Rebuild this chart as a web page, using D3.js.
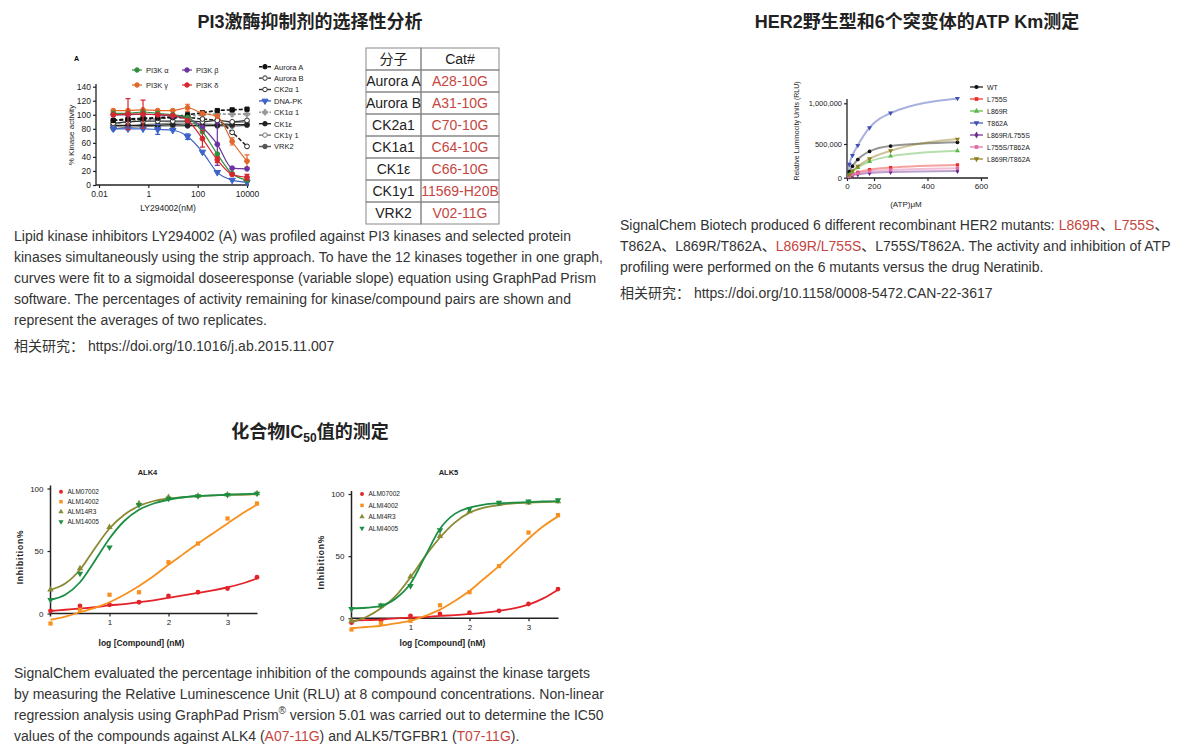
<!DOCTYPE html>
<html>
<head>
<meta charset="utf-8">
<script src="https://cdn.jsdelivr.net/npm/d3@7/dist/d3.min.js"></script>
<style>
  body { margin: 0; background: #fff; }
  svg text { font-family: "Liberation Sans", Arial, "Noto Sans CJK SC", sans-serif; }
</style>
</head>
<body>
<svg id="page" width="1201" height="755"></svg>
<script>
// ---------- chart A: LY294002 strip (% kinase activity) ----------
var pi3Conc = [0.038, 0.15, 0.61, 2.4, 9.8, 39, 156, 625, 2500, 10000];
var pi3Ticks = [0.01, 1, 100, 10000];
var pi3YTicks = [0, 20, 40, 60, 80, 100, 120, 140];
var pi3Names = ["PI3K α", "PI3K β", "PI3K γ", "PI3K δ", "Aurora A", "Aurora B", "CK2α 1", "DNA-PK", "CK1α 1", "CK1ε", "CK1γ 1", "VRK2"];
var pi3kAlpha = [102, 102, 104, 102, 100, 96, 76, 44, 16, 7];
var pi3kBeta = [100, 100, 101, 100, 98, 95, 82, 58, 24, 23];
var pi3kGamma = [106, 106, 107, 106, 106, 110, 102, 98, 62, 34];
var pi3kDelta = [100, 101, 101, 100, 99, 92, 66, 36, 15, 11];
var auroraA = [92, 94, 95, 96, 97, 100, 103, 106, 107, 108];
var auroraB = [92, 93, 94, 95, 96, 96, 94, 92, 75, 55];
var ck2a1 = [88, 90, 91, 91, 91, 91, 90, 92, 90, 92];
var dnaPK = [80, 80, 80, 79, 78, 69, 47, 18, 7, 4];
var ck1a1 = [87, 90, 92, 94, 96, 98, 100, 101, 101, 101];
var ck1e = [85, 85, 85, 85, 86, 85, 85, 85, 86, 86];
var ck1g1 = [83, 84, 86, 87, 88, 88, 87, 86, 89, 90];
var vrk2 = [80, 82, 83, 84, 84, 84, 84, 84, 84, 85];
// error half-widths (0 = none visible)
var pi3kBetaErr = [0, 0, 0, 0, 0, 0, 0, 30, 0, 0];
var pi3kGammaErr = [0, 0, 0, 0, 0, 5, 0, 0, 5, 9];
var pi3kDeltaErr = [0, 22, 20, 0, 0, 0, 12, 4, 0, 4];
var dnaPKErr = [0, 0, 0, 7, 0, 4, 0, 0, 0, 0];

// ---------- table ----------
var tableHead = ["分子", "Cat#"];
var tableMol = ["Aurora A", "Aurora B", "CK2a1", "CK1a1", "CK1ε", "CK1y1", "VRK2"];
var tableCat = ["A28-10G", "A31-10G", "C70-10G", "C64-10G", "C66-10G", "11569-H20B", "V02-11G"];

// ---------- HER2 ATP Km ----------
var atpConc = [0, 17, 40, 80, 167, 262, 512];
var atpXTicks = [0, 200, 400, 600];
var atpYTicks = [0, 500000, 1000000];
var herNames = ["WT", "L755S", "L869R", "T862A", "L869R/L755S", "L755S/T862A", "L869R/T862A"];
var herWT = [0, 90000, 170000, 270000, 390000, 470000, 520000];
var herL755S = [0, 20000, 45000, 80000, 120000, 150000, 190000];
var herL869R = [0, 40000, 90000, 150000, 240000, 320000, 400000];
var herT862A = [0, 200000, 330000, 480000, 700000, 880000, 1060000];
var herL869RL755S = [0, 15000, 35000, 50000, 70000, 85000, 100000];
var herL755ST862A = [0, 20000, 45000, 65000, 95000, 115000, 140000];
var herL869RT862A = [0, 40000, 100000, 170000, 280000, 400000, 560000];

// ---------- ALK4 / ALK5 IC50 ----------
var logConc = [0, 0.5, 1, 1.5, 2, 2.5, 3, 3.5];
var fitConc = [0, 0.25, 0.5, 0.75, 1, 1.25, 1.5, 1.75, 2, 2.25, 2.5, 2.75, 3, 3.25, 3.5];
var alkXTicks = [1, 2, 3];
var alkYTicks = [0, 50, 100];
var alk4Names = ["ALM07002", "ALM14002", "ALM14R3", "ALM14005"];
var alk5Names = ["ALM07002", "ALMI4002", "ALMI4R3", "ALMI4005"];
var alk4A = [2, 6, 7, 9, 14, 17, 20, 29];
var alk4B = [-8, 3, 15, 17, 41, 56, 76, 88];
var alk4C = [19, 36, 69, 88, 93, 94, 95, 96];
var alk4D = [11, 32, 53, 87, 92, 94, 95, 96];
var alk4AFit = [2, 3, 4, 5, 6.5, 7.5, 9, 10.5, 12.5, 14.5, 16.5, 18.5, 21, 24, 28];
var alk4BFit = [-5, -2.5, 1, 4.5, 9, 15, 22, 30, 39, 47.5, 56, 64, 72, 80, 87];
var alk4CFit = [19, 24, 35, 52, 68, 79, 86, 90, 92, 93, 94, 94.5, 95, 95, 95.5];
var alk4DFit = [11, 15, 25, 42, 60, 74, 83, 88, 91, 93, 94, 94.5, 95, 95.5, 96];
var alk5A = [-3.5, -2, 2, 3.5, 4.5, 6, 11.5, 23.5];
var alk5B = [-9, -4, -2, 10.5, 21, 42, 69, 83];
var alk5C = [-2, 10, 33.5, 66, 86, 92, 93, 94];
var alk5D = [7.5, 10.5, 26, 71, 88, 93, 94, 95];
var alk5AFit = [-2, -1.5, -1, 0, 0.5, 1, 2, 2.5, 3.5, 4.5, 6, 8, 11, 16, 23];
var alk5BFit = [-8, -7, -6, -4, -2, 2, 7, 14, 22, 32, 42, 53, 64, 74, 82];
var alk5CFit = [-3, 1, 8, 18, 33, 50, 65, 77, 85, 89, 91, 92.5, 93, 93.5, 94];
var alk5DFit = [8, 8.5, 10, 16, 28, 50, 72, 84, 89, 91.5, 92.5, 93, 93.5, 94, 94];

var RED = "#c4463f";
var svg = d3.select("#page");

function title(x, y, t) {
  return svg.append("text").attr("x", x).attr("y", y).attr("text-anchor", "middle")
    .attr("font-size", 18).attr("font-weight", "bold").attr("fill", "#222").text(t);
}
function para(x, y0, lh, lines) {
  lines.forEach(function(segs, i) {
    var t = svg.append("text").attr("x", x).attr("y", y0 + i * lh)
      .attr("font-size", 14).attr("fill", "#333");
    segs.forEach(function(s) {
      var sp = t.append("tspan").text(s[0]);
      if (s[1] === 1) sp.attr("fill", RED);
      if (s[1] === 2) sp.attr("font-size", 10).attr("dy", -6);
      if (s[1] === 3) sp.attr("dy", 6);
    });
  });
}
function mark(g, sym, size, x, y, color, fill) {
  g.append("path").attr("d", d3.symbol().type(sym).size(size)())
    .attr("transform", "translate(" + x + "," + y + ")")
    .attr("fill", fill ? color : "#fff").attr("stroke", color).attr("stroke-width", 1);
}
function styleAxis(sel, fs) {
  sel.select(".domain").remove();
  sel.selectAll("line").attr("stroke", "#222").attr("stroke-width", 1.2);
  sel.selectAll("text").attr("font-size", fs).attr("fill", "#222")
    .attr("font-family", "Inter, 'Liberation Sans', sans-serif");
}

// ================= titles =================
title(310, 28, "PI3激酶抑制剂的选择性分析");
title(917, 28, "HER2野生型和6个突变体的ATP Km测定");
var t3 = title(310, 438, "化合物IC");
t3.append("tspan").text("50").attr("font-size", 12).attr("dy", 4);
t3.append("tspan").text("值的测定").attr("dy", -4);

// ================= chart A =================
(function() {
  var g = svg.append("g");
  var x = d3.scaleLog().domain([0.01, 10000]).range([99, 247]);
  var y = d3.scaleLinear().domain([0, 140]).range([185, 86.7]);
  var ax = g.append("g").attr("transform", "translate(0,185)")
    .call(d3.axisBottom(x).tickValues(pi3Ticks).tickFormat(d3.format("~g")).tickSize(3).tickPadding(3));
  styleAxis(ax, 8.5);
  var ay = g.append("g").attr("transform", "translate(96,0)")
    .call(d3.axisLeft(y).tickValues(pi3YTicks).tickSize(3).tickPadding(2));
  styleAxis(ay, 8.5);
  g.append("line").attr("x1", 96).attr("x2", 249).attr("y1", 185).attr("y2", 185).attr("stroke", "#222").attr("stroke-width", 1.3);
  g.append("line").attr("x1", 96).attr("x2", 96).attr("y1", 84).attr("y2", 185).attr("stroke", "#222").attr("stroke-width", 1.3);

  g.append("text").attr("x", 74).attr("y", 61).attr("font-size", 7).attr("font-weight", "bold").text("A");
  g.append("text").attr("transform", "translate(74,135) rotate(-90)").attr("text-anchor", "middle")
    .attr("font-size", 8).attr("fill", "#222").attr("font-family", "Inter, sans-serif").text("% Kinase activity");
  g.append("text").attr("x", 168).attr("y", 211).attr("text-anchor", "middle")
    .attr("font-size", 8.5).attr("fill", "#222").attr("font-family", "Inter, sans-serif").text("LY294002(nM)");

  var series = [
    { v: vrk2, c: "#666", dash: null, sym: d3.symbolCircle, fill: true },
    { v: ck1g1, c: "#888", dash: null, sym: d3.symbolCircle, fill: false },
    { v: ck1e, c: "#222", dash: null, sym: d3.symbolCircle, fill: true },
    { v: ck1a1, c: "#999", dash: "3,2", sym: d3.symbolCross, fill: true },
    { v: ck2a1, c: "#333", dash: null, sym: d3.symbolCircle, fill: false },
    { v: auroraB, c: "#222", dash: "4,2", sym: d3.symbolCircle, fill: false },
    { v: auroraA, c: "#111", dash: "4,2", sym: d3.symbolSquare, fill: true },
    { v: dnaPK, e: dnaPKErr, c: "#3d63c9", dash: null, sym: d3.symbolTriangle, fill: true, down: true },
    { v: pi3kGamma, e: pi3kGammaErr, c: "#e2682a", dash: null, sym: d3.symbolCircle, fill: true },
    { v: pi3kBeta, e: pi3kBetaErr, c: "#6a35a0", dash: null, sym: d3.symbolCircle, fill: true },
    { v: pi3kAlpha, c: "#2f8f3f", dash: null, sym: d3.symbolCircle, fill: true },
    { v: pi3kDelta, e: pi3kDeltaErr, c: "#d8262e", dash: null, sym: d3.symbolCircle, fill: true }
  ];
  var line = d3.line().x(function(d, i) { return x(pi3Conc[i]); }).y(function(d) { return y(d); }).curve(d3.curveMonotoneX);
  series.forEach(function(s) {
    g.append("path").attr("d", line(s.v)).attr("fill", "none").attr("stroke", s.c)
      .attr("stroke-width", s.dash ? 1.6 : 1.2).attr("stroke-dasharray", s.dash);
    s.v.forEach(function(d, i) {
      var cx = x(pi3Conc[i]), cy = y(d);
      if (s.e && s.e[i]) {
        var e = s.e[i];
        g.append("path").attr("d", "M" + cx + "," + y(d - e) + "V" + y(d + e) + "M" + (cx - 2.5) + "," + y(d + e) + "h5M" + (cx - 2.5) + "," + y(d - e) + "h5")
          .attr("stroke", s.c).attr("stroke-width", 1.2).attr("fill", "none");
      }
      g.append("path").attr("d", d3.symbol().type(s.sym).size(18)())
        .attr("transform", "translate(" + cx + "," + cy + ")" + (s.down ? " rotate(180)" : ""))
        .attr("fill", s.fill ? s.c : "#fff").attr("stroke", s.c).attr("stroke-width", 1);
    });
  });

  // legends
  var leftLeg = [
    { n: pi3Names[0], c: "#2f8f3f", x: 132, y: 70 },
    { n: pi3Names[1], c: "#6a35a0", x: 182, y: 70 },
    { n: pi3Names[2], c: "#e2682a", x: 132, y: 85 },
    { n: pi3Names[3], c: "#d8262e", x: 182, y: 85 }
  ];
  leftLeg.forEach(function(l) {
    g.append("line").attr("x1", l.x).attr("x2", l.x + 10).attr("y1", l.y).attr("y2", l.y).attr("stroke", l.c).attr("stroke-width", 1.2);
    mark(g, d3.symbolCircle, 16, l.x + 5, l.y, l.c, true);
    g.append("text").attr("x", l.x + 14).attr("y", l.y + 2.5).attr("font-size", 7.5).attr("fill", "#222")
      .attr("font-family", "Inter, sans-serif").text(l.n);
  });
  var rightStyles = [
    { c: "#111", dash: "3,1.5", sym: d3.symbolCircle, fill: true },
    { c: "#222", dash: "3,1.5", sym: d3.symbolCircle, fill: false },
    { c: "#333", dash: null, sym: d3.symbolCircle, fill: false },
    { c: "#3d63c9", dash: null, sym: d3.symbolTriangle, fill: true, down: true },
    { c: "#999", dash: "2,1.5", sym: d3.symbolCross, fill: true },
    { c: "#222", dash: null, sym: d3.symbolCircle, fill: true },
    { c: "#777", dash: null, sym: d3.symbolCircle, fill: false },
    { c: "#555", dash: null, sym: d3.symbolCircle, fill: true }
  ];
  rightStyles.forEach(function(s, i) {
    var ly = 66.7 + i * 11.4;
    g.append("line").attr("x1", 259).attr("x2", 271).attr("y1", ly).attr("y2", ly).attr("stroke", s.c)
      .attr("stroke-width", 1.4).attr("stroke-dasharray", s.dash);
    g.append("path").attr("d", d3.symbol().type(s.sym).size(16)())
      .attr("transform", "translate(265," + ly + ")" + (s.down ? " rotate(180)" : ""))
      .attr("fill", s.fill ? s.c : "#fff").attr("stroke", s.c);
    g.append("text").attr("x", 274).attr("y", ly + 2.8).attr("font-size", 7.5).attr("fill", "#222")
      .attr("font-family", "Inter, sans-serif").text(pi3Names[4 + i]);
  });
})();

// ================= table =================
(function() {
  var g = svg.append("g");
  var xs = [366, 421, 499], top = 48, rh = 22;
  var rows = [tableHead].concat(tableMol.map(function(m, i) { return [m, tableCat[i]]; }));
  rows.forEach(function(r, i) {
    var y0 = top + i * rh;
    g.append("rect").attr("x", xs[0]).attr("y", y0).attr("width", xs[1] - xs[0]).attr("height", rh)
      .attr("fill", "none").attr("stroke", "#888");
    g.append("rect").attr("x", xs[1]).attr("y", y0).attr("width", xs[2] - xs[1]).attr("height", rh)
      .attr("fill", "none").attr("stroke", "#888");
    g.append("text").attr("x", (xs[0] + xs[1]) / 2).attr("y", y0 + 16).attr("text-anchor", "middle")
      .attr("font-size", 14).attr("fill", "#222").text(r[0]);
    g.append("text").attr("x", (xs[1] + xs[2]) / 2).attr("y", y0 + 16).attr("text-anchor", "middle")
      .attr("font-size", 14).attr("fill", i === 0 ? "#222" : RED).text(r[1]);
  });
})();

// ================= HER2 chart =================
(function() {
  var g = svg.append("g");
  var x = d3.scaleLinear().domain([0, 200, 600]).range([847, 874, 981]);
  var y = d3.scaleLinear().domain([0, 500000, 1000000]).range([177.7, 144, 103.3]);
  var ax = g.append("g").attr("transform", "translate(0,178)")
    .call(d3.axisBottom(x).tickValues(atpXTicks).tickSize(3).tickPadding(2));
  styleAxis(ax, 8);
  var ay = g.append("g").attr("transform", "translate(847,0)")
    .call(d3.axisLeft(y).tickValues(atpYTicks).tickFormat(d3.format(",")).tickSize(3).tickPadding(2));
  styleAxis(ay, 7.5);
  g.append("line").attr("x1", 847).attr("x2", 988).attr("y1", 178).attr("y2", 178).attr("stroke", "#222").attr("stroke-width", 1.3);
  g.append("line").attr("x1", 847).attr("x2", 847).attr("y1", 99).attr("y2", 178).attr("stroke", "#222").attr("stroke-width", 1.3);
  g.append("text").attr("transform", "translate(799,131) rotate(-90)").attr("text-anchor", "middle")
    .attr("font-size", 7).attr("fill", "#222").attr("font-family", "Inter, sans-serif").text("Relative Luminocity Units (RLU)");
  g.append("text").attr("x", 906).attr("y", 207).attr("text-anchor", "middle")
    .attr("font-size", 8).attr("fill", "#222").attr("font-family", "Inter, sans-serif").text("(ATP)μM");

  var series = [
    { v: herWT, c: "#111111", sym: d3.symbolCircle },
    { v: herL755S, c: "#e8302a", sym: d3.symbolSquare },
    { v: herL869R, c: "#5cb84a", sym: d3.symbolTriangle },
    { v: herT862A, c: "#3f4fb5", sym: d3.symbolTriangle, down: true },
    { v: herL869RL755S, c: "#6a2c91", sym: d3.symbolDiamond },
    { v: herL755ST862A, c: "#e06aa6", sym: d3.symbolSquare },
    { v: herL869RT862A, c: "#8f7f1e", sym: d3.symbolTriangle, down: true }
  ];
  var line = d3.line().x(function(d, i) { return x(atpConc[i]); }).y(function(d) { return y(d); }).curve(d3.curveMonotoneX);
  series.forEach(function(s) {
    g.append("path").attr("d", line(s.v)).attr("fill", "none").attr("stroke", s.c)
      .attr("stroke-opacity", 0.45).attr("stroke-width", 2);
  });
  series.forEach(function(s) {
    s.v.forEach(function(d, i) {
      if (i === 0) return;
      g.append("path").attr("d", d3.symbol().type(s.sym).size(11)())
        .attr("transform", "translate(" + x(atpConc[i]) + "," + y(d) + ")" + (s.down ? " rotate(180)" : ""))
        .attr("fill", s.c);
    });
  });
  series.forEach(function(s, i) {
    var ly = 87 + i * 12;
    g.append("line").attr("x1", 970).attr("x2", 983).attr("y1", ly).attr("y2", ly).attr("stroke", s.c)
      .attr("stroke-opacity", 0.6).attr("stroke-width", 2);
    g.append("path").attr("d", d3.symbol().type(s.sym).size(14)())
      .attr("transform", "translate(976.5," + ly + ")" + (s.down ? " rotate(180)" : "")).attr("fill", s.c);
    g.append("text").attr("x", 987).attr("y", ly + 2.5).attr("font-size", 7).attr("fill", "#222")
      .attr("font-family", "Inter, sans-serif").text(herNames[i]);
  });
})();

// ================= ALK charts =================
function alkChart(name, names, data, fits, x0, y0, y100, legY, legStep) {
  var g = svg.append("g");
  var x = d3.scaleLinear().domain([0, 3.5]).range([x0, x0 + 206.5]);
  var y = d3.scaleLinear().domain([0, 100]).range([y0, y100]);
  var ax = g.append("g").attr("transform", "translate(0," + y0 + ")")
    .call(d3.axisBottom(x).tickValues(alkXTicks).tickFormat(d3.format("d")).tickSize(3).tickPadding(3));
  styleAxis(ax, 8);
  var ay = g.append("g").attr("transform", "translate(" + x0 + ",0)")
    .call(d3.axisLeft(y).tickValues(alkYTicks).tickSize(3).tickPadding(4));
  styleAxis(ay, 8);
  g.append("line").attr("x1", x0).attr("x2", x0 + 207).attr("y1", y0).attr("y2", y0).attr("stroke", "#222").attr("stroke-width", 1.5);
  g.append("line").attr("x1", x0).attr("x2", x0).attr("y1", y100 - 3).attr("y2", y0 + 3).attr("stroke", "#222").attr("stroke-width", 1.5);
  g.append("text").attr("x", x0 + 97).attr("y", 475).attr("text-anchor", "middle").attr("font-size", 7.5)
    .attr("font-weight", "bold").attr("fill", "#222").attr("font-family", "Inter, sans-serif").text(name);
  g.append("text").attr("transform", "translate(" + (x0 - 28) + "," + ((y0 + y100) / 2 + 6) + ") rotate(-90)")
    .attr("text-anchor", "middle").attr("font-size", 8.5).attr("font-weight", "bold").attr("letter-spacing", 0.8)
    .attr("fill", "#222").attr("font-family", "Inter, sans-serif").text("Inhibition%");
  g.append("text").attr("x", x0 + 91).attr("y", 645.5).attr("text-anchor", "middle").attr("font-size", 8.5)
    .attr("font-weight", 600).attr("fill", "#222").attr("font-family", "Inter, sans-serif").text("log [Compound] (nM)");

  var styles = [
    { c: "#e4222a", sym: d3.symbolCircle },
    { c: "#f7901e", sym: d3.symbolSquare },
    { c: "#8a8a32", sym: d3.symbolTriangle },
    { c: "#1d8f45", sym: d3.symbolTriangle, down: true }
  ];
  var line = d3.line().x(function(d, i) { return x(fitConc[i]); }).y(function(d) { return y(d); }).curve(d3.curveMonotoneX);
  data.forEach(function(v, k) {
    var s = styles[k];
    g.append("path").attr("d", line(fits[k])).attr("fill", "none").attr("stroke", s.c).attr("stroke-width", 1.8);
    v.forEach(function(d, i) {
      g.append("path").attr("d", d3.symbol().type(s.sym).size(18)())
        .attr("transform", "translate(" + x(logConc[i]) + "," + y(d) + ")" + (s.down ? " rotate(180)" : ""))
        .attr("fill", s.c);
    });
    var ly = legY + k * legStep;
    g.append("path").attr("d", d3.symbol().type(s.sym).size(12)())
      .attr("transform", "translate(" + (x0 + 10.5) + "," + ly + ")" + (s.down ? " rotate(180)" : "")).attr("fill", s.c);
    g.append("text").attr("x", x0 + 17).attr("y", ly + 2.4).attr("font-size", 6.5).attr("fill", "#222")
      .attr("font-family", "Inter, sans-serif").text(names[k]);
  });
}
alkChart("ALK4", alk4Names, [alk4A, alk4B, alk4C, alk4D], [alk4AFit, alk4BFit, alk4CFit, alk4DFit], 50.5, 613.5, 488.5, 491.7, 10);
alkChart("ALK5", alk5Names, [alk5A, alk5B, alk5C, alk5D], [alk5AFit, alk5BFit, alk5CFit, alk5DFit], 351.5, 618.3, 494, 494, 11.4);

// ================= paragraphs =================
para(14, 241, 21, [
  [["Lipid kinase inhibitors LY294002 (A) was profiled against PI3 kinases and selected protein"]],
  [["kinases simultaneously using the strip approach. To have the 12 kinases together in one graph,"]],
  [["curves were fit to a sigmoidal doseeresponse (variable slope) equation using GraphPad Prism"]],
  [["software. The percentages of activity remaining for kinase/compound pairs are shown and"]],
  [["represent the averages of two replicates."]]
]);
para(14, 351, 21, [[["相关研究：  https://doi.org/10.1016/j.ab.2015.11.007"]]]);

para(620, 230, 21, [
  [["SignalChem Biotech produced 6 different recombinant HER2 mutants: "], ["L869R", 1], ["、"], ["L755S", 1], ["、"]],
  [["T862A、L869R/T862A、"], ["L869R/L755S", 1], ["、L755S/T862A. The activity and inhibition of ATP"]],
  [["profiling were performed on the 6 mutants versus the drug Neratinib."]]
]);
para(620, 298, 21, [[["相关研究：  https://doi.org/10.1158/0008-5472.CAN-22-3617"]]]);

para(14, 678, 21, [
  [["SignalChem evaluated the percentage inhibition of the compounds against the kinase targets"]],
  [["by measuring the Relative Luminescence Unit (RLU) at 8 compound concentrations. Non-linear"]],
  [["regression analysis using GraphPad Prism"], ["®", 2], [" version 5.01 was carried out to determine the IC50", 3]],
  [["values of the compounds against ALK4 ("], ["A07-11G", 1], [") and ALK5/TGFBR1 ("], ["T07-11G", 1], [")."]]
]);
</script>
</body>
</html>
